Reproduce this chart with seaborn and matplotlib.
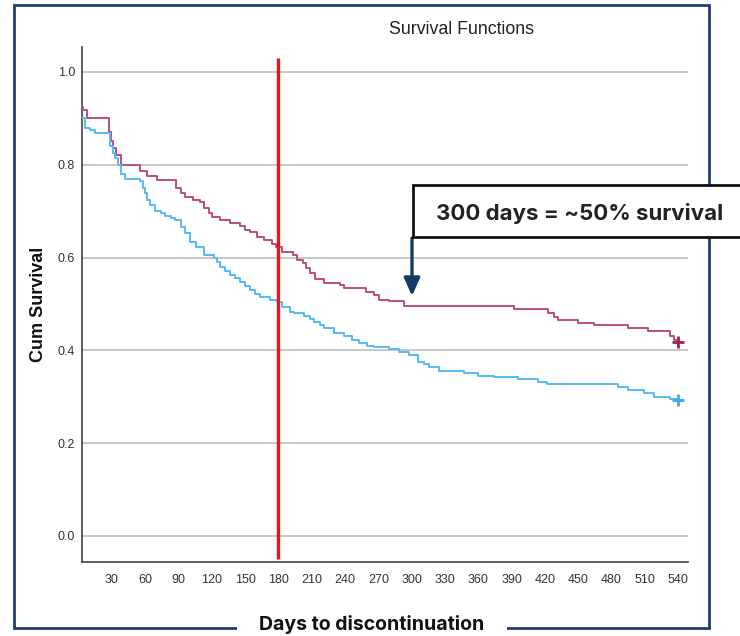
import pandas as pd
import matplotlib
matplotlib.use("Agg")
import matplotlib.pyplot as plt
import seaborn as sns
from matplotlib.patches import Rectangle

# survival curve steps (day, cum survival)
red_days = [3, 4, 7.5, 27, 29, 31, 34, 38, 55, 62, 71, 88, 92, 96, 103, 109, 113, 117, 120,
            127, 136, 145, 150, 154, 161, 167, 174, 178, 183, 193, 197, 202, 205, 208, 213,
            221, 235, 239, 259, 266, 271, 280, 293, 392, 423, 428, 432, 450, 464, 495, 513,
            533, 536, 540]
red_surv = [0.925, 0.918, 0.90, 0.87, 0.85, 0.835, 0.82, 0.80, 0.787, 0.776, 0.767, 0.75,
            0.74, 0.73, 0.725, 0.72, 0.707, 0.695, 0.688, 0.68, 0.675, 0.667, 0.66, 0.655,
            0.645, 0.638, 0.63, 0.623, 0.612, 0.605, 0.595, 0.588, 0.578, 0.567, 0.554,
            0.545, 0.541, 0.534, 0.526, 0.52, 0.509, 0.507, 0.496, 0.489, 0.48, 0.472,
            0.465, 0.459, 0.455, 0.448, 0.442, 0.43, 0.422, 0.418]

blue_days = [3, 5.7, 10, 15, 28, 31, 33, 35, 38, 42, 55, 58, 60, 62, 64, 69, 74, 78, 83, 87,
             92, 96, 100, 106, 113, 122, 125, 127, 132, 136, 141, 145, 150, 154, 159, 163,
             172, 179, 183, 190, 194, 203, 208, 212, 217, 221, 230, 239, 246, 253, 260, 266,
             280, 289, 298, 306, 311, 316, 325, 347, 360, 374, 396, 414, 422, 486, 495, 509,
             518, 533, 540]
blue_surv = [0.90, 0.88, 0.875, 0.868, 0.84, 0.825, 0.815, 0.80, 0.78, 0.77, 0.765, 0.75,
             0.74, 0.725, 0.713, 0.70, 0.695, 0.69, 0.685, 0.68, 0.665, 0.653, 0.634, 0.623,
             0.605, 0.60, 0.59, 0.58, 0.57, 0.562, 0.555, 0.548, 0.538, 0.53, 0.522, 0.515,
             0.508, 0.505, 0.494, 0.483, 0.48, 0.474, 0.468, 0.461, 0.455, 0.448, 0.438,
             0.43, 0.422, 0.416, 0.41, 0.407, 0.403, 0.397, 0.39, 0.375, 0.37, 0.364, 0.356,
             0.351, 0.345, 0.343, 0.338, 0.332, 0.328, 0.321, 0.315, 0.309, 0.30, 0.295,
             0.293]

censor_day = [540, 540]
censor_surv = [0.418, 0.293]
censor_group = ["red", "blue"]

x_ticks = list(range(30, 541, 30))
y_ticks = [0.0, 0.2, 0.4, 0.6, 0.8, 1.0]
cutoff_day = 180

df = pd.concat([
    pd.DataFrame({"day": red_days, "surv": red_surv, "group": "red"}),
    pd.DataFrame({"day": blue_days, "surv": blue_surv, "group": "blue"}),
])
censor_df = pd.DataFrame({"day": censor_day, "surv": censor_surv, "group": censor_group})

sns.set_theme(style="white")
plt.rcParams["font.family"] = ["Liberation Sans", "DejaVu Sans"]

fig = plt.figure(figsize=(7.4, 6.36), dpi=100)
ax = fig.add_axes([0.1108, 0.1164, 0.819, 0.81])

for y in y_ticks:
    ax.axhline(y, color="#c4c4c4", lw=1.3, zorder=0)

sns.lineplot(data=df, x="day", y="surv", hue="group", estimator=None,
             palette={"red": "#bc4f72", "blue": "#55baf7"}, drawstyle="steps-post",
             lw=1.4, legend=False, ax=ax, zorder=3)
sns.scatterplot(data=censor_df, x="day", y="surv", hue="group", marker="+", s=70,
                palette={"red": "#a51c4e", "blue": "#3aa8f0"}, linewidth=2,
                legend=False, ax=ax, zorder=4)

ax.vlines(cutoff_day, -0.05, 1.03, color="#e8141f", lw=2.4, zorder=5)

ax.set_xlim(3, 549)
ax.set_ylim(-0.056, 1.054)
ax.set_xticks(x_ticks)
ax.set_yticks(y_ticks)
ax.set_yticklabels([f"{v:.1f}" for v in y_ticks])
ax.tick_params(length=0, labelsize=9, labelcolor="#333333")
ax.tick_params(axis="x", pad=9)
ax.tick_params(axis="y", pad=5)
ax.set_xlabel("")
ax.set_ylabel("Cum Survival", fontsize=13, fontweight="bold", color="#111111", labelpad=8)
for s in ["top", "right"]:
    ax.spines[s].set_visible(False)
for s in ["left", "bottom"]:
    ax.spines[s].set_color("#444444")
    ax.spines[s].set_linewidth(1.2)

fig.text(462 / 740, 1 - 30 / 636, "Survival Functions", ha="center", va="center",
         fontsize=12.8, color="#222222")

# outer frame
fig.patches.append(Rectangle((14 / 740, 1 - 628 / 636), (709 - 14) / 740, (628 - 5) / 636,
                             transform=fig.transFigure, fill=False, ec="#1f3d6e", lw=2,
                             zorder=1))

fig.text(372 / 740, 1 - 625 / 636, "Days to discontinuation", ha="center", va="center",
         fontsize=14, fontweight="bold", color="#111111", family=["Inter", "DejaVu Sans"],
         bbox=dict(facecolor="white", edgecolor="none", pad=16), zorder=3)

# callout box and arrow
fig.patches.append(Rectangle((413 / 740, 1 - 237 / 636), 340 / 740, 52 / 636,
                             transform=fig.transFigure, fc="white", ec="#111111", lw=2,
                             zorder=5))
fig.text(580 / 740, 1 - 213 / 636, "300 days = ~50% survival", ha="center", va="center",
         fontsize=16, fontweight="bold", color="#222222", family=["Inter", "DejaVu Sans"],
         zorder=6)
ax.annotate("", xy=(412 / 740, 1 - 296 / 636), xytext=(412 / 740, 1 - 238 / 636),
            xycoords="figure fraction", textcoords="figure fraction",
            arrowprops=dict(arrowstyle="-|>,head_length=0.9,head_width=0.4",
                            color="#163a66", lw=2.4, shrinkA=0, shrinkB=0), zorder=6)

fig.savefig("out.png", dpi=100)
